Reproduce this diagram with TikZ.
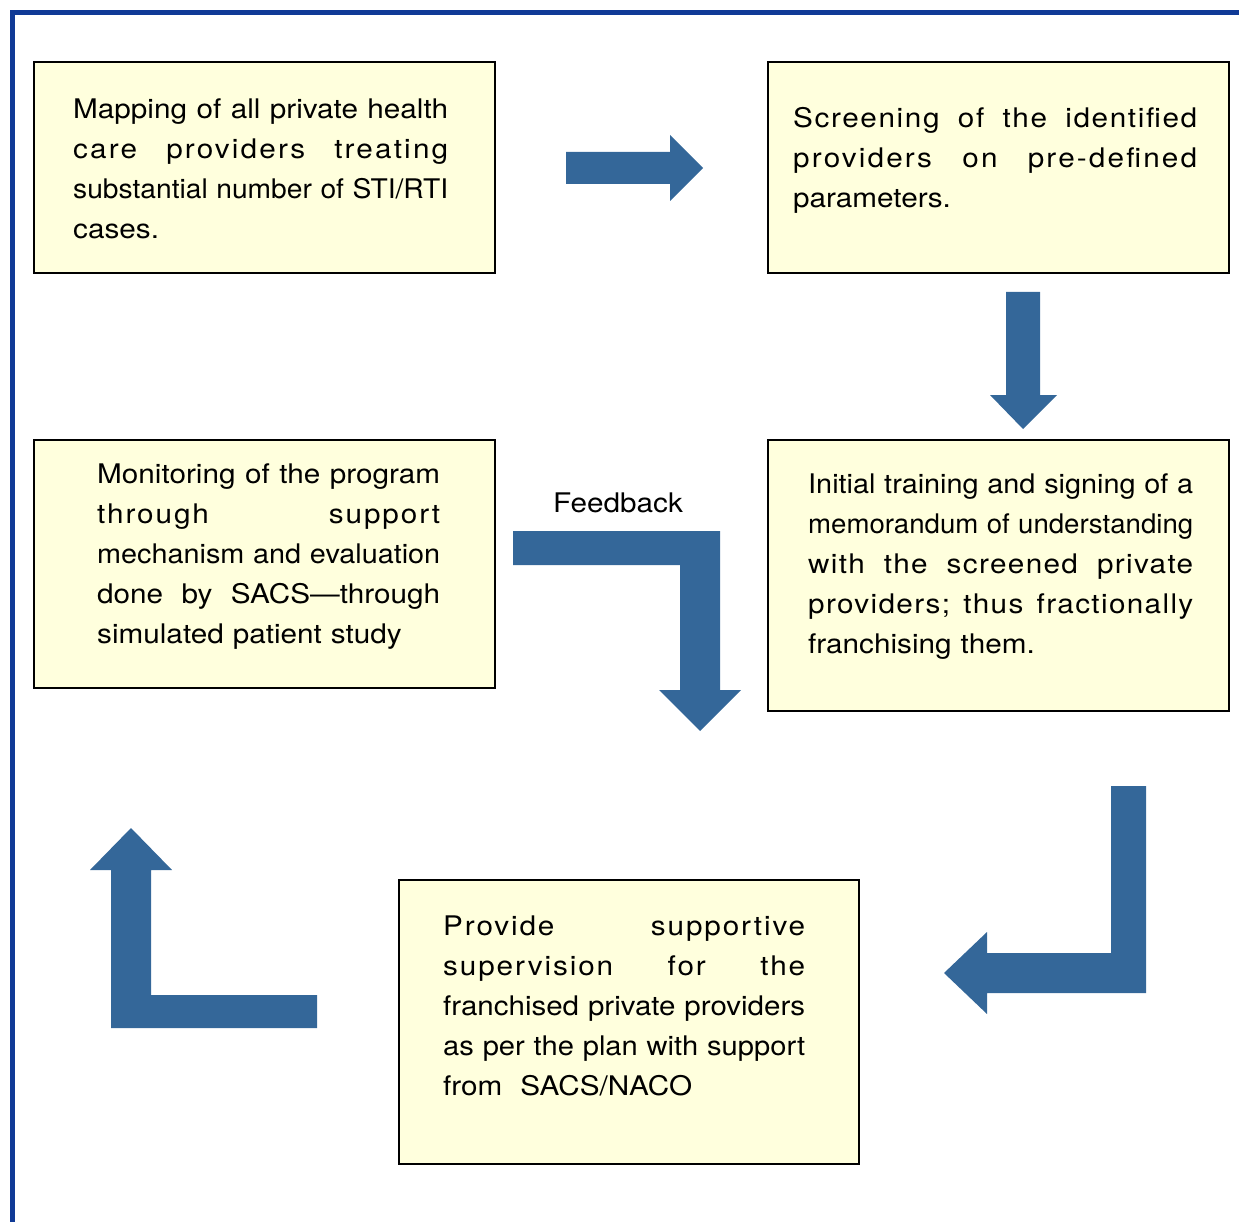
\documentclass[tikz,border=0pt]{standalone}
\usepackage{fontspec}
\usepackage{graphicx}
\setmainfont{TeX Gyre Heros}[FakeStretch=1.1]
\definecolor{framblue}{RGB}{16,58,150}
\definecolor{arrblue}{RGB}{52,103,153}
\definecolor{boxfill}{RGB}{255,255,221}
\newsavebox\jlbox
\newcommand\jline[2]{\leavevmode\sbox\jlbox{#2}\ifdim\wd\jlbox>#1\relax\resizebox{#1}{\height}{\usebox\jlbox}\else\hbox to #1{\frenchspacing\spaceskip=\fontdimen2\font plus 1fil\relax #2}\fi}
\newcommand\lsp[2]{{\addfontfeature{LetterSpace=#1}#2}}
\tikzset{
  box/.style={draw=black, line width=2pt, fill=boxfill, anchor=north west, inner sep=0pt},
  txt/.style={anchor=base west, inner sep=0pt, align=left, font=\fontsize{27}{40}\selectfont},
  blockarrow/.style={fill=arrblue, draw=none},
  frameline/.style={draw=framblue, line width=5pt}
}
\begin{document}
\begin{tikzpicture}[x=1pt,y=-1pt]
\useasboundingbox (0,0) rectangle (1239,1222);
% frame
\draw[frameline] (12.5,1222) -- (12.5,12.5) -- (1239,12.5);
% boxes
\node[box, minimum width=461pt, minimum height=211pt] (b1) at (33,61) {};
\node[box, minimum width=461pt, minimum height=211pt] (b2) at (767,61) {};
\node[box, minimum width=461pt, minimum height=248pt] (b3) at (33,439) {};
\node[box, minimum width=461pt, minimum height=271pt] (b4) at (767,439) {};
\node[box, minimum width=460pt, minimum height=284pt] (b5) at (398,879) {};
% texts
\node[txt, text width=375pt] (t1) at (73,119) {%
\jline{375pt}{Mapping of all private health}\\
\jline{375pt}{\lsp{8}{care providers treating}}\\
\jline{375pt}{substantial number of STI/RTI}\\
cases.};
\node[txt, text width=404pt] (t2) at (793,128) {%
\jline{404pt}{\lsp{6}{Screening of the identified}}\\
\jline{404pt}{\lsp{8}{providers on pre-defined}}\\
parameters.};
\node[txt, text width=343pt] (t3) at (97,483) {%
\jline{343pt}{Monitoring of the program}\\
\jline{343pt}{\lsp{7}{through support}}\\
\jline{343pt}{mechanism and evaluation}\\
\jline{343pt}{done by SACS—through}\\
simulated patient study};
\node[txt, text width=385pt] (t4) at (808,493) {%
\jline{385pt}{Initial training and signing of a}\\
\jline{385pt}{memorandum of understanding}\\
\jline{385pt}{\lsp{5}{with the screened private}}\\
\jline{385pt}{\lsp{5}{providers; thus fractionally}}\\
franchising them.};
\node[txt, text width=362pt] (t5) at (443,935) {%
\jline{362pt}{\lsp{7}{Provide supportive}}\\
\jline{362pt}{\lsp{7}{supervision for the}}\\
\jline{362pt}{franchised private providers}\\
\jline{362pt}{as per the plan with support}\\
from\ \ SACS/NACO};
\node[txt, anchor=base] (fb) at (618,512) {Feedback};
% block arrows
\fill[blockarrow] (566,152) -- (670,152) -- (670,135) -- (703,168) -- (670,201) -- (670,184) -- (566,184) -- cycle;
\fill[blockarrow] (1006,292) -- (1040,292) -- (1040,395) -- (1057,395) -- (1023,429) -- (990,395) -- (1006,395) -- cycle;
\fill[blockarrow] (513,531) -- (720,531) -- (720,690) -- (741,690) -- (700,731) -- (659,690) -- (680,690) -- (680,565) -- (513,565) -- cycle;
\fill[blockarrow] (1111,786) -- (1146,786) -- (1146,993) -- (987,993) -- (987,1014) -- (944,973) -- (987,932) -- (987,953) -- (1111,953) -- cycle;
\fill[blockarrow] (317,1028) -- (111,1028) -- (111,870) -- (90,870) -- (131,828) -- (172,870) -- (151,870) -- (151,995) -- (317,995) -- cycle;
\end{tikzpicture}
\end{document}
